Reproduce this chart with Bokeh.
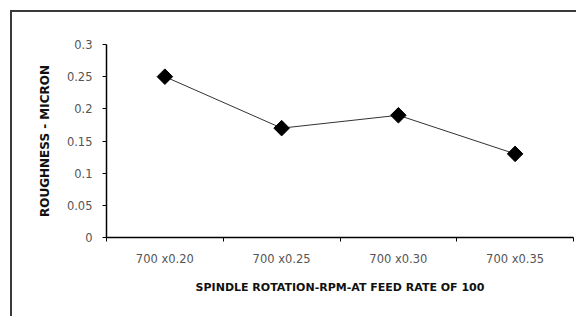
import numpy as np
from bokeh.plotting import figure
from bokeh.layouts import column
from bokeh.models import FixedTicker, Range1d
from bokeh.embed import file_html
from bokeh.resources import INLINE

categories = ["700 x0.20", "700 x0.25", "700 x0.30", "700 x0.35"]
roughness = [0.25, 0.17, 0.19, 0.13]
y_ticks = [0, 0.05, 0.1, 0.15, 0.2, 0.25, 0.3]
y_tick_labels = ["0", "0.05", "0.1", "0.15", "0.2", "0.25", "0.3"]

n = len(categories)
xs = [i + 0.5 for i in range(n)]

W, H = 564, 304
p = figure(width=W, height=H, output_backend="svg", toolbar_location=None,
           x_range=Range1d(0, n), y_range=Range1d(0, 0.3),
           min_border_left=94, min_border_right=3, min_border_top=32, min_border_bottom=79)
p.outline_line_color = None
p.grid.grid_line_color = None
p.background_fill_color = "white"
p.border_fill_color = "white"

p.line(xs, roughness, line_color="#333333", line_width=1)
p.scatter(xs, roughness, marker="square", angle=np.pi / 4, size=11,
          fill_color="black", line_color="black")

xa = p.xaxis[0]
xa.ticker = FixedTicker(ticks=xs, minor_ticks=list(range(n + 1)))
xa.major_label_overrides = {x: c for x, c in zip(xs, categories)}
xa.major_tick_out = 0
xa.major_tick_in = 0
xa.minor_tick_out = 4
xa.minor_tick_in = 0
xa.minor_tick_line_color = "black"
xa.axis_line_color = "black"
xa.axis_line_width = 1.5
xa.major_label_standoff = 10
xa.major_label_text_font = "DejaVu Sans"
xa.major_label_text_font_size = "11.5px"
xa.major_label_text_color = "#555555"
xa.axis_label = "SPINDLE ROTATION-RPM-AT FEED RATE OF 100"
xa.axis_label_text_font = "DejaVu Sans"
xa.axis_label_text_font_style = "bold"
xa.axis_label_text_font_size = "11px"
xa.axis_label_text_color = "#111111"
xa.axis_label_standoff = 12

ya = p.yaxis[0]
ya.ticker = FixedTicker(ticks=y_ticks, minor_ticks=[])
ya.major_label_overrides = {t: l for t, l in zip(y_ticks, y_tick_labels)}
ya.major_tick_out = 4
ya.major_tick_in = 0
ya.axis_line_color = "black"
ya.axis_line_width = 1.5
ya.major_label_standoff = 10
ya.major_label_text_font = "DejaVu Sans"
ya.major_label_text_font_size = "11.5px"
ya.major_label_text_color = "#555555"
ya.axis_label = "ROUGHNESS - MICRON"
ya.axis_label_text_font = "DejaVu Sans"
ya.axis_label_text_font_style = "bold"
ya.axis_label_text_font_size = "12px"
ya.axis_label_text_color = "#111111"
ya.axis_label_standoff = 12

layout = column(p, margin=(10, 0, 0, 10),
                styles={"border-top": "2px solid #3a3a3a", "border-left": "2px solid #3a3a3a"})

open("out.html", "w").write(file_html(layout, INLINE))
